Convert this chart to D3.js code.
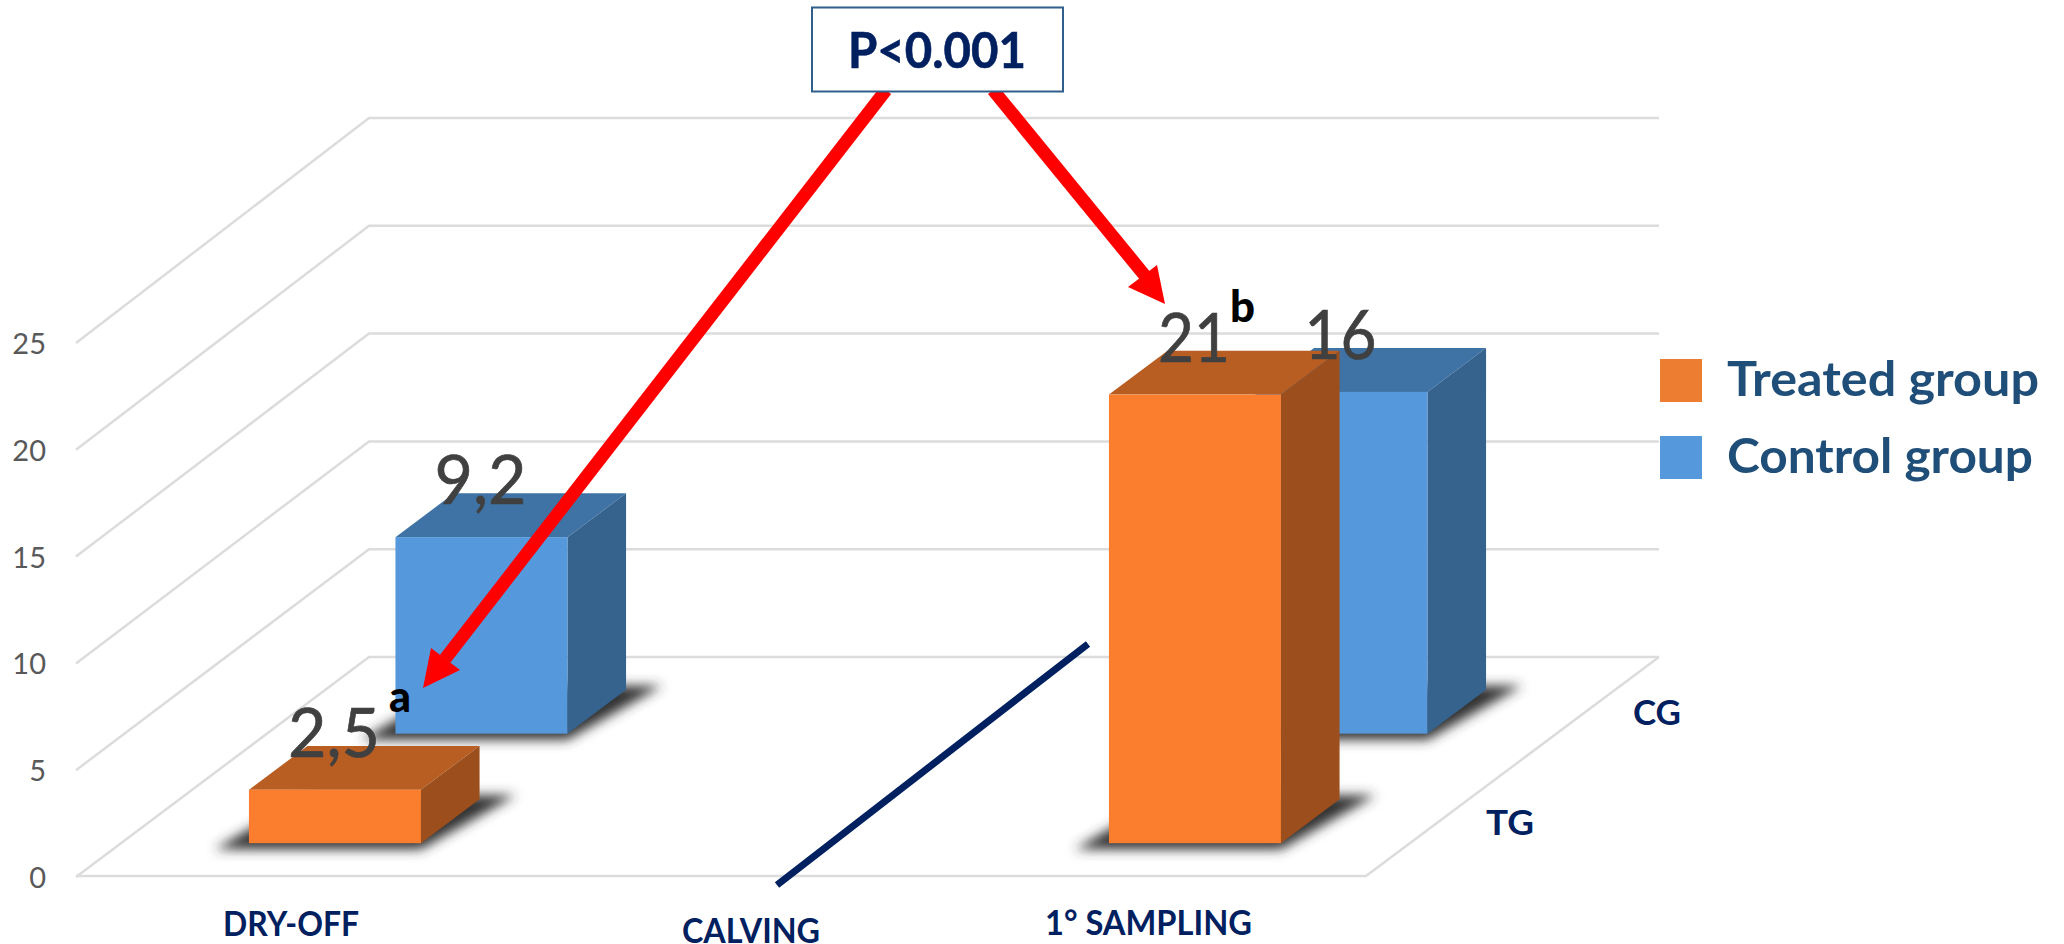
<!DOCTYPE html>
<html><head><meta charset="utf-8">
<script src="https://cdn.jsdelivr.net/npm/d3@7"></script>
<style>html,body{margin:0;padding:0;background:#fff}svg{display:block}text{font-family:Lato,"Open Sans",sans-serif}</style>
</head><body><svg id="c" width="2064" height="944"></svg>
<script>
const categories = ["DRY-OFF", "CALVING", "1° SAMPLING"];
const groups = ["TG", "CG"];
const groupNames = ["Treated group", "Control group"];
const treated = [2.5, null, 21];
const control = [9.2, null, 16];
const treatedLabels = ["2,5", "", "21"];
const controlLabels = ["9,2", "", "16"];
const yTicks = [0, 5, 10, 15, 20, 25];

const svg = d3.select("#c");
const x = d3.scaleBand().domain(categories).range([76, 1366]).paddingInner(0.6).paddingOuter(0.3);
const depth = d3.scaleBand().domain(groups).range([0, 1]).paddingInner(0.6).paddingOuter(0.3);
const depthX = d3.scaleLinear().domain([0, 1]).range([0, 293]);
const floorY = d3.scaleLinear().domain([0, 1]).range([876, 657]);
const barH = d3.scaleLinear().domain([0, 25]).range([0, 534]);
const yFront = d3.scaleLinear().domain([0, 25]).range([877, 343]);
const yBack = d3.scaleLinear().domain([0, 25]).range([657, 118]);

const defs = svg.append("defs");
defs.append("filter").attr("id", "blur").attr("x", "-30%").attr("y", "-30%").attr("width", "160%").attr("height", "160%")
  .append("feGaussianBlur").attr("stdDeviation", 6);

// walls and floor
const grid = svg.append("g").attr("fill", "none").attr("stroke", "#dcdcdc").attr("stroke-width", 2.5);
const bx0 = x.range()[0] + depthX(1), bx1 = x.range()[1] + depthX(1);
grid.selectAll("path").data(yTicks).join("path")
  .attr("d", v => d3.line()([[x.range()[0], yFront(v)], [bx0, yBack(v)], [bx1, yBack(v)]]));
grid.append("path").attr("d", d3.line()([[x.range()[0], floorY(0)], [x.range()[1], floorY(0)], [bx1, floorY(1)]]));

// y axis
const axis = svg.append("g").attr("transform", "translate(46,0)")
  .call(d3.axisLeft(yFront).tickValues(yTicks).tickSize(0).tickPadding(0));
axis.select(".domain").remove();
axis.selectAll("text").attr("font-size", 29).attr("fill", "#595959").attr("dy", "0.36em")
  .style("font-family", "Lato");

const styles = {
  TG: {front: "#fb7e2e", top: "#b95e23", side: "#9c4e1c"},
  CG: {front: "#5598db", top: "#3f73a5", side: "#35638e"}
};
const poly = pts => d3.line()(pts) + "Z";

function bar(g, i, val, label) {
  if (val === null) return;
  const t0 = depth(g), t1 = t0 + depth.bandwidth();
  const l = x(categories[i]) + depthX(t0), r = l + x.bandwidth();
  const dx = depthX(t1) - depthX(t0);
  const b = floorY(t0), b2 = floorY(t1), dy = b - b2;
  const top = b - barH(val), top2 = top - dy;
  const s = styles[g];
  const m = svg.append("g");
  m.append("path").attr("d", poly([[l - 34, b + 6], [r, b + 6], [r + dx + 36, b2 - 4], [l + dx, b2 - 4]]))
    .attr("fill", "#333333").attr("filter", "url(#blur)");
  m.append("path").attr("d", poly([[l, top], [r, top], [r + dx, top2], [l + dx, top2]])).attr("fill", s.top);
  m.append("path").attr("d", poly([[r, top], [r + dx, top2], [r + dx, b2], [r, b]])).attr("fill", s.side);
  m.append("rect").attr("x", l).attr("y", top).attr("width", x.bandwidth()).attr("height", b - top).attr("fill", s.front);
  return {cx: (l + r) / 2, top, label};
}
const labelled = [];
categories.forEach((c, i) => { const o = bar("CG", i, control[i], controlLabels[i]); if (o) labelled.push(o); });
categories.forEach((c, i) => { const o = bar("TG", i, treated[i], treatedLabels[i]); if (o) labelled.push(o); });

// calving marker
svg.append("line").attr("x1", 777).attr("y1", 885).attr("x2", 1088).attr("y2", 644)
  .attr("stroke", "#002060").attr("stroke-width", 7);

// value labels
svg.append("g").selectAll("text").data(labelled).join("text")
  .attr("x", d => d.cx - 1).attr("y", d => d.top - 33)
  .attr("text-anchor", "middle").attr("font-size", 67).attr("fill", "#404040")
  .attr("stroke", "#404040").attr("stroke-width", 0.7)
  .attr("textLength", d => d.label.includes(",") ? 92 : 72).attr("lengthAdjust", "spacingAndGlyphs")
  .text(d => d.label);

// arrows
const arrows = [
  {from: [886, 90], neck: [445, 659], tip: [423, 688], w1: [431, 648], w2: [460, 670]},
  {from: [993, 90], neck: [1146, 277], tip: [1165, 304], w1: [1128, 287], w2: [1157, 265]}
];
const arr = svg.append("g");
arr.selectAll("line").data(arrows).join("line")
  .attr("x1", d => d.from[0]).attr("y1", d => d.from[1]).attr("x2", d => d.neck[0]).attr("y2", d => d.neck[1])
  .attr("stroke", "#ff0000").attr("stroke-width", 13);
arr.selectAll("path").data(arrows).join("path")
  .attr("d", d => poly([d.tip, d.w1, d.w2])).attr("fill", "#ff0000");

// p box
svg.append("rect").attr("x", 812).attr("y", 7.5).attr("width", 251).attr("height", 84)
  .attr("fill", "#fff").attr("stroke", "#2f5f8a").attr("stroke-width", 2);
svg.append("text").attr("x", 937).attr("y", 68).attr("text-anchor", "middle")
  .attr("font-size", 49).attr("font-weight", 700).attr("fill", "#002060")
  .attr("stroke", "#002060").attr("stroke-width", 0.6)
  .attr("textLength", 178).attr("lengthAdjust", "spacingAndGlyphs").text("P<0.001");

// superscripts
const sup = (t, px, py, w) => svg.append("text").attr("x", px).attr("y", py).attr("font-size", 44)
  .attr("font-weight", 900).attr("fill", "#000").attr("textLength", w).attr("lengthAdjust", "spacingAndGlyphs").text(t);
sup("a", 389, 712, 22);
sup("b", 1230, 322, 25);

// category & group labels
const navy = (t, px, py, w, fs) => svg.append("text").attr("x", px).attr("y", py).attr("font-size", fs)
  .attr("font-weight", 700).attr("fill", "#002060").attr("textLength", w).attr("lengthAdjust", "spacingAndGlyphs").text(t);
const catLabelX = [223, 682, 1045], catLabelY = [936, 943, 935], catLabelW = [136, 138, 207];
categories.forEach((c, i) => navy(c, catLabelX[i], catLabelY[i], catLabelW[i], 34));
const depthLabelX = [1486, 1633], depthLabelY = [835, 725];
groups.forEach((g, i) => navy(g, depthLabelX[i], depthLabelY[i], 48, 34));

// legend
const legendColors = ["#ed7d31", "#5598db"], legendY = [359, 436], legendW = [312, 306];
const lg = svg.append("g").selectAll("g").data(groupNames).join("g");
lg.append("rect").attr("x", 1660).attr("y", (d, i) => legendY[i]).attr("width", 42).attr("height", 43)
  .attr("fill", (d, i) => legendColors[i]);
lg.append("text").attr("x", 1727).attr("y", (d, i) => legendY[i] + 37).attr("font-size", 48)
  .attr("font-weight", 700).attr("fill", "#1f4e79")
  .attr("textLength", (d, i) => legendW[i]).attr("lengthAdjust", "spacingAndGlyphs").text(d => d);
</script></body></html>
